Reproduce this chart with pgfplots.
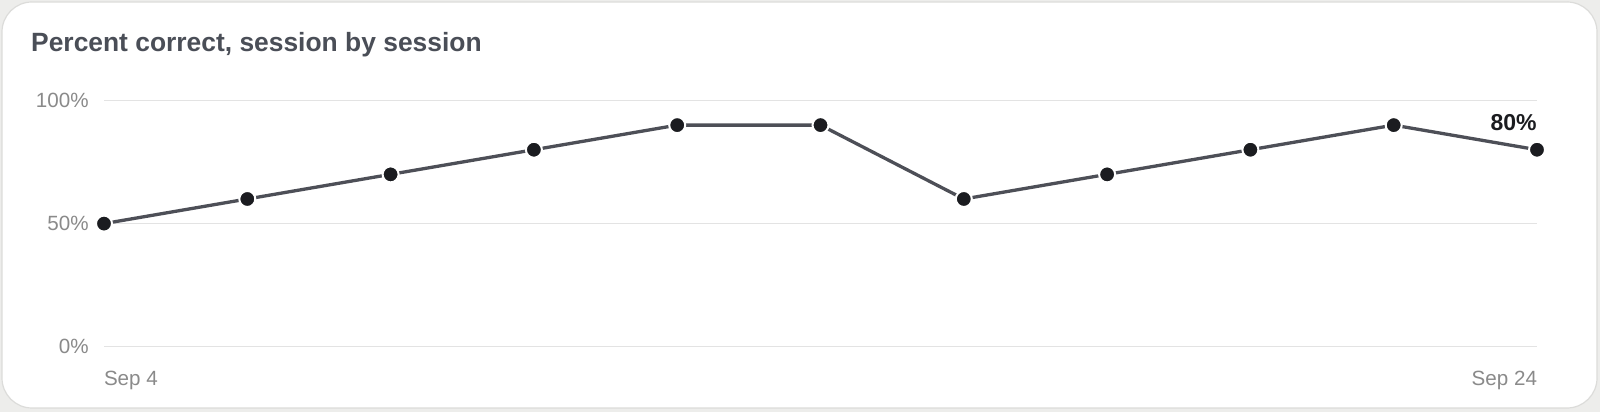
\documentclass[border=0pt]{standalone}
\usepackage{pgfplots}
\pgfplotsset{compat=1.18}
\usepackage{fontspec}
\setmainfont{Liberation Sans}
\definecolor{bggray}{HTML}{EDEDEB}
\definecolor{cardborder}{HTML}{DCDCDA}
\definecolor{titlecol}{HTML}{4A4E57}
\definecolor{linecol}{HTML}{4D4F57}
\definecolor{dotcol}{HTML}{1B1C20}
\definecolor{tickcol}{HTML}{8A8A8A}
\definecolor{gridcol}{HTML}{E3E3E3}
\begin{document}
\begin{tikzpicture}
\fill[bggray] (0,0) rectangle (800pt,206pt);
\draw[cardborder, fill=white, line width=0.6pt, rounded corners=15pt] (1pt,2pt) rectangle (798.5pt,205pt);
\node[anchor=base west, inner sep=0pt, text=titlecol, font=\fontsize{13.2pt}{15pt}\selectfont\bfseries] at (15.4pt,180pt) {Percent correct, session by session};
\begin{axis}[
  at={(52pt,32.65pt)}, anchor=south west,
  scale only axis, width=716.5pt, height=123.1pt,
  xmin=0, xmax=10, ymin=0, ymax=100,
  enlargelimits=false, clip=false,
  axis line style={draw=none},
  major tick length=0pt,
  ytick={0,50,100}, yticklabels={0\%,50\%,100\%},
  xtick={0,10}, xticklabels={\makebox[0pt][l]{Sep 4},\makebox[0pt][r]{Sep 24}},
  ymajorgrids, major grid style={gridcol, line width=0.6pt},
  tick label style={inner sep=0pt, text=tickcol, font=\fontsize{10.3pt}{12pt}\selectfont},
  yticklabel style={anchor=east, xshift=-7.5pt},
  xticklabel style={anchor=north, yshift=-12pt},
]
\addplot[linecol, line width=1.65pt, mark=*, mark size=4pt,
  mark options={fill=dotcol, draw=white, line width=1pt}]
  coordinates {(0,50) (1,60) (2,70) (3,80) (4,90) (5,90) (6,60) (7,70) (8,80) (9,90) (10,80)};
\node[anchor=base east, inner sep=0pt, text=dotcol, font=\fontsize{11.5pt}{13pt}\selectfont\bfseries] at (axis cs:10,80) [yshift=9.85pt] {80\%};
\end{axis}
\pgfresetboundingbox
\useasboundingbox (0,0) rectangle (800pt,206pt);
\end{tikzpicture}
\end{document}
